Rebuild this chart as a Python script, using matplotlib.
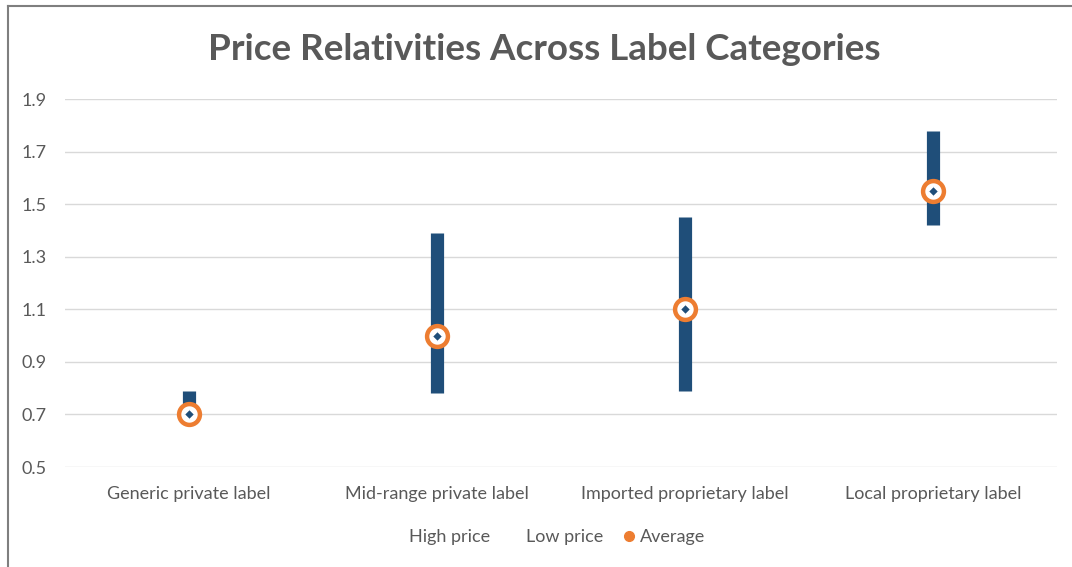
import numpy as np
import matplotlib.pyplot as plt
from matplotlib.lines import Line2D

categories = ["Generic private label", "Mid-range private label",
              "Imported proprietary label", "Local proprietary label"]
high_price = [0.79, 1.39, 1.45, 1.78]
low_price = [0.69, 0.78, 0.79, 1.42]
average = [0.70, 1.00, 1.10, 1.55]

plt.rcParams['font.family'] = ['Lato', 'DejaVu Sans']

bar_color = "#1F4E79"
avg_color = "#ED7D31"
text_grey = "#595959"

fig = plt.figure(figsize=(10.72, 5.67), dpi=100)
ax = fig.add_axes([65 / 1072, 1 - 467 / 567, 992 / 1072, 368 / 567])

x = np.arange(len(categories))
ax.vlines(x, low_price, high_price, color=bar_color, linewidth=9.5, zorder=3)
ax.plot(x, average, linestyle="none", marker="o", markersize=15,
        markerfacecolor="white", markeredgecolor=avg_color,
        markeredgewidth=3.2, zorder=4)
ax.plot(x, average, linestyle="none", marker="D", markersize=5,
        markerfacecolor=bar_color, markeredgecolor="white",
        markeredgewidth=0.8, zorder=5)

ax.set_xlim(-0.5, 3.5)
ax.set_ylim(0.5, 1.9)
yt = np.arange(0.5, 1.91, 0.2)
ax.set_yticks(yt)
ax.set_yticklabels([f"{v:.1f}" for v in yt])
ax.set_xticks(x)
ax.set_xticklabels(categories)
ax.tick_params(length=0, labelsize=13, colors=text_grey)
ax.tick_params(axis="x", pad=14)
ax.tick_params(axis="y", pad=13)
ax.grid(axis="y", color="#D9D9D9", linewidth=1)
ax.set_axisbelow(True)
for s in ax.spines.values():
    s.set_visible(False)

fig.text(0.508, 1 - 50 / 567, "Price Relativities Across Label Categories",
         ha="center", va="center", fontsize=26.5, fontweight="bold", color=text_grey)

handles = [Line2D([], [], linestyle="none", label="High price"),
           Line2D([], [], linestyle="none", label="Low price"),
           Line2D([], [], linestyle="none", marker="o", markersize=7,
                  color=avg_color, label="Average")]
leg = fig.legend(handles=handles, loc="center", bbox_to_anchor=(0.512, 1 - 537 / 567),
                 ncol=3, frameon=False, fontsize=13, handlelength=0.6,
                 handletextpad=0.3, columnspacing=1.1)
for t in leg.get_texts():
    t.set_color(text_grey)

# chart border on left and top
fig.add_artist(Line2D([8 / 1072, 8 / 1072], [0, 1 - 6 / 567], color="#7F7F7F", linewidth=1.5))
fig.add_artist(Line2D([8 / 1072, 1], [1 - 6 / 567, 1 - 6 / 567], color="#7F7F7F", linewidth=1.5))

fig.savefig("out.png", dpi=100)
